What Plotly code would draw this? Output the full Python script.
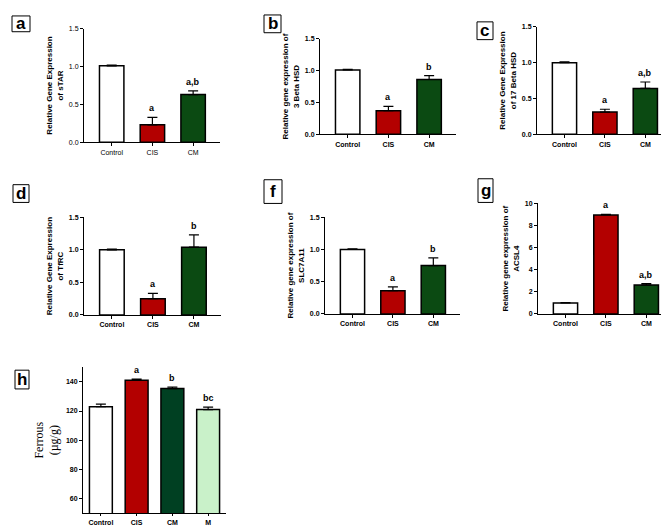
import plotly.graph_objects as go

# -----------------------------
# data
# -----------------------------
groups3 = ["Control", "CIS", "CM"]
groups4 = ["Control", "CIS", "CM", "M"]

star_mean = [1.01, 0.23, 0.63]
star_err = [0.01, 0.10, 0.05]
star_sig = ["", "a", "a,b"]

hsd3_mean = [1.01, 0.37, 0.86]
hsd3_err = [0.01, 0.07, 0.06]
hsd3_sig = ["", "a", "b"]

hsd17_mean = [1.00, 0.31, 0.64]
hsd17_err = [0.01, 0.04, 0.09]
hsd17_sig = ["", "a", "a,b"]

tfrc_mean = [1.00, 0.25, 1.04]
tfrc_err = [0.01, 0.08, 0.19]
tfrc_sig = ["", "a", "b"]

slc_mean = [1.00, 0.36, 0.75]
slc_err = [0.01, 0.06, 0.12]
slc_sig = ["", "a", "b"]

acsl_mean = [1.0, 8.95, 2.62]
acsl_err = [0.03, 0.05, 0.12]
acsl_sig = ["", "a", "a,b"]

ferrous_mean = [123.0, 141.0, 135.4, 121.0]
ferrous_err = [1.7, 0.8, 1.0, 1.7]
ferrous_sig = ["", "a", "b", "bc"]

W, H = 669, 527
RED = "#b30000"
GREEN = "#0b4a12"
GREEN_H = "#004022"
LIGHT = "#c9f1c9"

fig = go.Figure()


def fx(px):
    return px / W


def fy(py):
    return 1 - py / H


def add_panel(n, letter, box, cats, mean, err, sig, colors, title, xpx, ypx,
              yrange, dtick, tickvals=None, xr=(-0.68, 2.66), width=0.6,
              bold=True, title_font=None, ticklen=3):
    sfx = "" if n == 1 else str(n)
    fig.add_trace(go.Bar(
        x=cats, y=mean, width=width, xaxis="x" + sfx, yaxis="y" + sfx,
        marker=dict(color=colors, line=dict(color="black", width=1.5)),
        error_y=dict(type="data", symmetric=False, array=err,
                     arrayminus=[0] * len(err), color="black",
                     thickness=1.2, width=5),
        showlegend=False))
    wt = "bold" if bold else "normal"
    tf = dict(family="Liberation Sans, Arial", size=7, color="#000000", weight=wt)
    fig.update_layout(**{
        "xaxis" + sfx: dict(domain=[fx(xpx[0]), fx(xpx[1])], anchor="y" + sfx,
                            range=list(xr), showline=True, linecolor="black",
                            linewidth=1, ticks="outside", ticklen=ticklen,
                            tickcolor="black", tickfont=tf, showgrid=False,
                            zeroline=False, fixedrange=True),
        "yaxis" + sfx: dict(domain=[fy(ypx[1]), fy(ypx[0])], anchor="x" + sfx,
                            range=list(yrange), dtick=dtick,
                            tickvals=tickvals, showline=True,
                            linecolor="black", linewidth=1, ticks="outside",
                            ticklen=3, tickcolor="black", tickfont=tf,
                            showgrid=False, zeroline=False,
                            tickformat=".1f" if dtick and dtick < 1 else None,
                            title=dict(text=title, standoff=4,
                                       font=title_font or dict(
                                           family="Liberation Sans, Arial",
                                           size=8, color="black",
                                           weight="bold")),
                            fixedrange=True),
    })
    for c, m, e, s in zip(cats, mean, err, sig):
        if s:
            fig.add_annotation(x=c, y=m + e, xref="x" + sfx, yref="y" + sfx,
                               text=s, showarrow=False, yanchor="bottom",
                               yshift=2, font=dict(family="Liberation Sans, Arial",
                                                   size=9, color="black",
                                                   weight="bold"))
    x0, y0, x1, y1 = box
    fig.add_shape(type="rect", xref="paper", yref="paper",
                  x0=fx(x0), x1=fx(x1), y0=fy(y1), y1=fy(y0),
                  line=dict(color="black", width=1))
    fig.add_annotation(x=fx((x0 + x1) / 2), y=fy((y0 + y1) / 2),
                       xref="paper", yref="paper", text=letter,
                       showarrow=False, xanchor="center", yanchor="middle",
                       font=dict(family="Liberation Sans, Arial", size=17,
                                 color="black", weight="bold"))


c3 = ["white", RED, GREEN]

add_panel(1, "a", (4, 4, 22, 20), groups3, star_mean, star_err, star_sig, c3,
          "Relative Gene Expression<br>of sTAR", (76, 212), (17, 132),
          (0, 1.5), 0.5, bold=False)
add_panel(2, "b", (256, 3, 273, 21), groups3, hsd3_mean, hsd3_err, hsd3_sig, c3,
          "Relative gene expression of<br>3 Beta HSD", (312, 448), (27, 124),
          (0, 1.5), 0.5)
add_panel(3, "c", (469, 10, 485, 28), groups3, hsd17_mean, hsd17_err, hsd17_sig,
          c3, "Relative Gene Expression<br>of 17 Beta HSD", (529, 664),
          (15, 124), (0, 1.5), 0.5)
add_panel(4, "d", (5, 175, 21, 193), groups3, tfrc_mean, tfrc_err, tfrc_sig, c3,
          "Relative Gene Expression<br>of TfRC", (76, 213), (208, 307),
          (0, 1.5), 0.5)
add_panel(5, "f", (256, 170, 274, 194), groups3, slc_mean, slc_err, slc_sig, c3,
          "Relative gene expression of<br>SLC7A11", (317, 452), (208, 306),
          (0, 1.5), 0.5)
add_panel(6, "g", (470, 169, 485, 193), groups3, acsl_mean, acsl_err, acsl_sig,
          c3, "Relative gene expression of<br>ACSL4", (530, 665), (194, 306),
          (0, 10), 2)
add_panel(7, "h", (7, 363, 21, 382), groups4, ferrous_mean, ferrous_err,
          ferrous_sig, ["white", RED, GREEN_H, LIGHT], "Ferrous<br>(µg/g)",
          (75, 218), (360, 508), (50, 150), None,
          tickvals=[60, 80, 100, 120, 140], xr=(-0.5, 3.5), width=0.64,
          ticklen=2,
          title_font=dict(family="Liberation Serif, Times New Roman", size=12,
                          color="black"))

fig.update_layout(width=W, height=H, margin=dict(l=0, r=0, t=0, b=0),
                  plot_bgcolor="white", paper_bgcolor="white",
                  bargap=0.3)

fig.write_html("out.html")
